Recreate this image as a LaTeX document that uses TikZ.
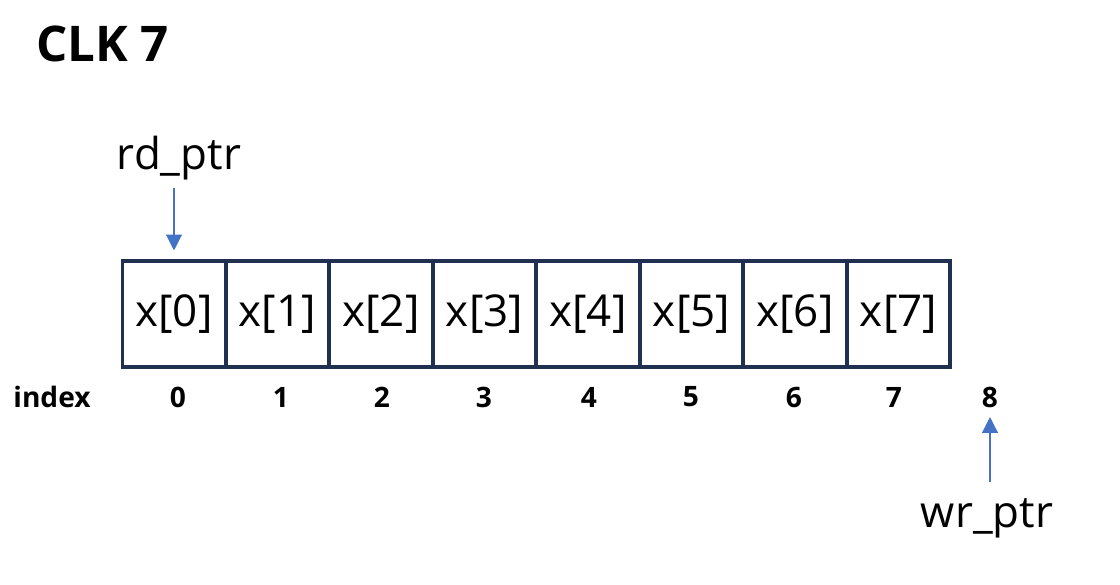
\documentclass[tikz,border=0pt]{standalone}
\usepackage{fontspec}
\setmainfont{Open Sans}
\usetikzlibrary{arrows.meta,calc,positioning}
\definecolor{cellblue}{HTML}{1F3050}
\definecolor{ptrblue}{HTML}{4472C4}
\tikzset{
    mycell/.style={draw=cellblue,line width=2pt,minimum width=2.07cm,minimum height=2.12cm,inner sep=0pt,outer sep=0pt,font=\fontsize{25}{30}\selectfont},
    myidx/.style={font=\fontsize{16}{19}\selectfont\bfseries},
    myptr/.style={font=\fontsize{25}{30}\selectfont},
    ptrarrow/.style={draw=ptrblue,line width=0.7pt,-{Triangle[width=9pt,length=9pt]}}
}
\begin{document}
\begin{tikzpicture}[x=0.02cm,y=-0.02cm]
  \useasboundingbox (0,0) rectangle (1120,585);

  % 标题
  \node[font=\fontsize{28}{32}\selectfont\bfseries,anchor=west] (clk) at (30,44) {CLK 7};

  % 存储单元
  \foreach \i in {0,...,7}{
    \node[mycell] (c\i) at ({174+103.5*\i},314) {x[\i]};
  }

  % 下标
  \node[myidx] (idxlbl) at (52,397) {index};
  \foreach \i/\x in {0/178,1/281,2/382,3/484,4/589,5/691,6/794,7/894,8/990}{
    \node[myidx] (idx\i) at (\x,397) {\i};
  }

  % 读写指针
  \node[myptr] (rd) at (179,158) {rd\_ptr};
  \node[myptr] (wr) at (987,518) {wr\_ptr};

  \draw[ptrarrow,shorten <=1pt,shorten >=6pt] (c0.north |- rd.south) -- (c0.north);
  \draw[ptrarrow,shorten <=6pt,shorten >=2pt] (idx8.south |- wr.north) -- (idx8.south);

\end{tikzpicture}
\end{document}
